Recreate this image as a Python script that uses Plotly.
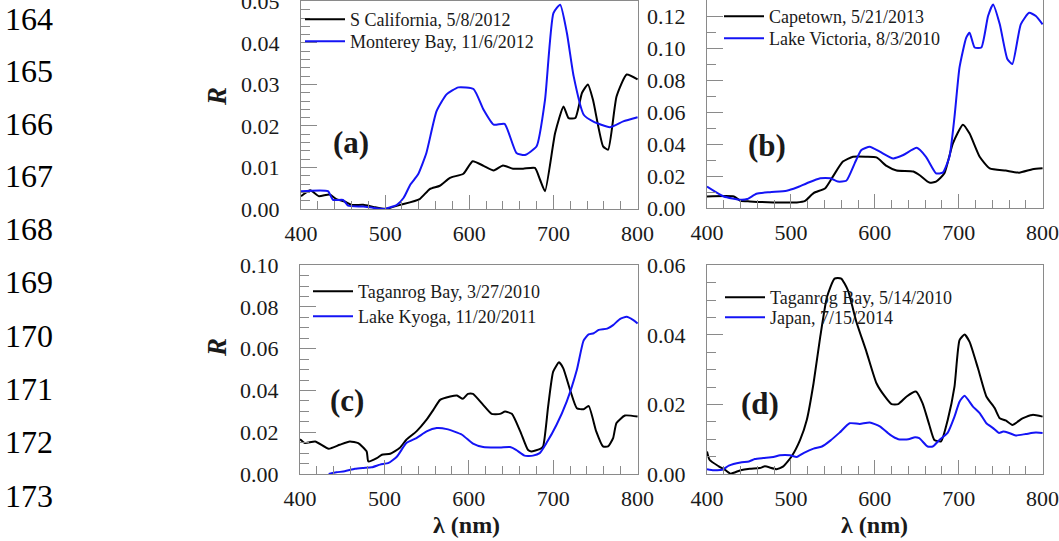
import plotly.graph_objects as go

W, H = 1059, 541

# ---------------- data ----------------
# Panel (a)
a_black_name = "S California, 5/8/2012"
a_black_wl = [400, 411, 421, 434, 442, 452, 460, 474, 486, 500, 518, 541, 553, 565, 577, 593, 604, 617,
              629, 640, 652, 664, 678, 684, 690, 702, 712, 718, 726, 734, 741, 747, 759, 765, 775, 787, 800]
a_black_R = [0.0031, 0.0045, 0.0031, 0.0035, 0.0024, 0.0018, 0.0010, 0.0010, 0.0005, 0.0000, 0.0010, 0.0024,
             0.0048, 0.0056, 0.0075, 0.0085, 0.0115, 0.0104, 0.0093, 0.0105, 0.0097, 0.0097, 0.0099, 0.0071,
             0.0043, 0.0183, 0.0247, 0.0219, 0.0219, 0.0280, 0.0300, 0.0263, 0.0151, 0.0143, 0.0271, 0.0324,
             0.0312]
a_blue_name = "Monterey Bay, 11/6/2012"
a_blue_wl = [400, 432, 438, 450, 456, 474, 498, 514, 522, 530, 539, 549, 561, 573, 587, 605, 617, 629, 642,
             656, 666, 680, 690, 700, 708, 716, 724, 736, 747, 767, 783, 800]
a_blue_R = [0.0043, 0.0043, 0.0022, 0.0022, 0.0008, 0.0006, 0.0000, 0.0010, 0.0027, 0.0059, 0.0083, 0.0135,
            0.0235, 0.0276, 0.0293, 0.0289, 0.0239, 0.0203, 0.0205, 0.0135, 0.0130, 0.0151, 0.0263, 0.0472,
            0.0492, 0.0424, 0.0320, 0.0227, 0.0211, 0.0197, 0.0211, 0.0221]

# Panel (b)
b_black_name = "Capetown, 5/21/2013"
b_black_wl = [400, 432, 440, 451, 479, 507, 517, 527, 541, 550, 562, 574, 590, 602, 614, 626, 646, 654, 665,
              673, 683, 693, 705, 713, 725, 737, 756, 772, 788, 800]
b_black_R = [0.0072, 0.0072, 0.0045, 0.0041, 0.0035, 0.0035, 0.0045, 0.0093, 0.0124, 0.0196, 0.0290, 0.0320,
             0.0320, 0.0316, 0.0263, 0.0234, 0.0228, 0.0203, 0.0159, 0.0165, 0.0217, 0.0403, 0.0521, 0.0465,
             0.0320, 0.0248, 0.0234, 0.0221, 0.0242, 0.0248]
b_blue_name = "Lake Victoria, 8/3/2010"
b_blue_wl = [400, 420, 440, 448, 459, 475, 495, 507, 519, 535, 547, 556, 566, 576, 584, 594, 606, 622, 634,
             650, 661, 673, 681, 689, 695, 701, 709, 713, 719, 727, 735, 741, 749, 758, 764, 774, 784, 792, 800]
b_blue_R = [0.0134, 0.0072, 0.0052, 0.0056, 0.0089, 0.0099, 0.0108, 0.0128, 0.0155, 0.0186, 0.0186, 0.0165,
            0.0170, 0.0279, 0.0362, 0.0383, 0.0352, 0.0310, 0.0331, 0.0376, 0.0320, 0.0217, 0.0221, 0.0320,
            0.0569, 0.0879, 0.1065, 0.1096, 0.1003, 0.1003, 0.1200, 0.1272, 0.1148, 0.0931, 0.0900, 0.1148,
            0.1220, 0.1200, 0.1148]

# Panel (c)
c_black_name = "Taganrog Bay, 3/27/2010"
c_black_wl = [400, 406, 418, 434, 447, 459, 469, 479, 481, 491, 497, 507, 518, 526, 538, 550, 558, 566, 578,
              586, 593, 599, 605, 617, 627, 637, 643, 651, 661, 670, 674, 684, 688, 694, 700, 707, 712, 720,
              728, 736, 742, 751, 759, 765, 771, 775, 785, 800]
c_black_R = [0.0167, 0.0148, 0.0156, 0.0121, 0.0140, 0.0156, 0.0148, 0.0108, 0.0060, 0.0076, 0.0092, 0.0097,
             0.0124, 0.0164, 0.0204, 0.0260, 0.0307, 0.0355, 0.0371, 0.0376, 0.0360, 0.0384, 0.0384, 0.0331,
             0.0288, 0.0288, 0.0299, 0.0288, 0.0204, 0.0116, 0.0108, 0.0119, 0.0132, 0.0323, 0.0490, 0.0535,
             0.0506, 0.0403, 0.0315, 0.0310, 0.0326, 0.0204, 0.0132, 0.0132, 0.0172, 0.0244, 0.0280, 0.0275]
c_blue_name = "Lake Kyoga, 11/20/2011"
c_blue_wl = [434, 443, 453, 465, 475, 485, 495, 505, 515, 526, 538, 550, 562, 574, 592, 605, 617, 637, 649,
             656, 666, 676, 684, 692, 704, 716, 728, 736, 742, 748, 754, 764, 771, 779, 787, 795, 800]
c_blue_R = [0.0000, 0.0008, 0.0013, 0.0025, 0.0029, 0.0032, 0.0045, 0.0053, 0.0084, 0.0148, 0.0172, 0.0204,
            0.0220, 0.0215, 0.0188, 0.0145, 0.0129, 0.0127, 0.0129, 0.0116, 0.0088, 0.0088, 0.0100, 0.0148,
            0.0236, 0.0347, 0.0498, 0.0639, 0.0669, 0.0674, 0.0690, 0.0696, 0.0713, 0.0742, 0.0753, 0.0737,
            0.0721]

# Panel (d)
d_black_name = "Taganrog Bay, 5/14/2010"
d_black_wl = [400, 403, 414, 422, 428, 440, 451, 463, 469, 483, 491, 501, 511, 519, 527, 535, 543, 552, 560,
              568, 578, 590, 602, 612, 620, 628, 638, 649, 657, 665, 671, 679, 687, 695, 701, 707, 713, 723,
              733, 743, 749, 756, 764, 776, 788, 800]
d_black_R = [0.0065, 0.0041, 0.0022, 0.0011, 0.0001, 0.0011, 0.0015, 0.0017, 0.0022, 0.0014, 0.0022, 0.0051,
             0.0098, 0.0156, 0.0261, 0.0395, 0.0509, 0.0562, 0.0562, 0.0528, 0.0438, 0.0352, 0.0261, 0.0223,
             0.0201, 0.0201, 0.0223, 0.0237, 0.0203, 0.0141, 0.0098, 0.0094, 0.0156, 0.0251, 0.0385, 0.0401,
             0.0380, 0.0304, 0.0223, 0.0189, 0.0160, 0.0154, 0.0141, 0.0160, 0.0170, 0.0165]
d_blue_name = "Japan, 7/15/2014"
d_blue_wl = [400, 408, 418, 426, 440, 450, 457, 467, 479, 487, 499, 507, 515, 527, 537, 547, 558, 570, 582,
             594, 606, 618, 628, 640, 648, 653, 663, 669, 677, 687, 695, 701, 707, 717, 725, 733, 741, 748,
             753, 760, 768, 780, 792, 800]
d_blue_R = [0.0014, 0.0011, 0.0012, 0.0024, 0.0033, 0.0036, 0.0043, 0.0046, 0.0049, 0.0054, 0.0054, 0.0049,
            0.0060, 0.0073, 0.0079, 0.0096, 0.0119, 0.0146, 0.0144, 0.0148, 0.0137, 0.0113, 0.0100, 0.0100,
            0.0106, 0.0103, 0.0079, 0.0079, 0.0098, 0.0119, 0.0165, 0.0208, 0.0225, 0.0194, 0.0175, 0.0146,
            0.0132, 0.0118, 0.0122, 0.0118, 0.0111, 0.0115, 0.0119, 0.0118]

panel_labels = ["(a)", "(b)", "(c)", "(d)"]
y_ranges = [[0, 0.0501], [0, 0.13], [0, 0.1001], [0, 0.0601]]
y_dticks = [0.01, 0.02, 0.02, 0.02]
y_minor = [0.002, 0.01, 0.005, 0.005]
x_range = [400, 800.5]
line_numbers = ["164", "165", "166", "167", "168", "169", "170", "171", "172", "173"]
x_title = "λ (nm)"
y_title = "R"

# ---------------- layout helpers ----------------
def px(x):
    return x / W


def py(y):
    return 1 - y / H


SERIF = "Liberation Serif, Times New Roman, Times, serif"
AX = "#8a8a8a"
TXT = "#1a1a1a"
BLUE = "#1414f5"

# plot-area boxes in pixels: (left, right, top, bottom)
boxes = [(301, 638, 1, 209), (707, 1043, 0, 208), (300, 638, 265, 474), (707, 1043, 265, 474)]
# one legend per entry: (left px, top px)
legend_pos = [[(300, 1), (300, 23)], [(719, -2), (719, 20)],
              [(308, 273), (308, 298)], [(720, 279), (720, 299)]]

fig = go.Figure()

series = [
    (a_black_wl, a_black_R, a_black_name, a_blue_wl, a_blue_R, a_blue_name),
    (b_black_wl, b_black_R, b_black_name, b_blue_wl, b_blue_R, b_blue_name),
    (c_black_wl, c_black_R, c_black_name, c_blue_wl, c_blue_R, c_blue_name),
    (d_black_wl, d_black_R, d_black_name, d_blue_wl, d_blue_R, d_blue_name),
]

layout = dict(template="none", width=W, height=H,
              margin=dict(l=0, r=0, t=0, b=0, pad=0, autoexpand=False),
              paper_bgcolor="white", plot_bgcolor="white", showlegend=True,
              font=dict(family=SERIF, color=TXT))

leg_n = 0
for i, (bw, bR, bn, uw, uR, un) in enumerate(series):
    sfx = "" if i == 0 else str(i + 1)
    for j, (wx, ry, nm, col) in enumerate([(bw, bR, bn, "black"), (uw, uR, un, BLUE)]):
        leg_n += 1
        key = "legend" if leg_n == 1 else "legend%d" % leg_n
        fig.add_trace(go.Scatter(x=wx, y=ry, name=nm, mode="lines",
                                 line=dict(color=col, width=2, shape="spline", smoothing=0.5),
                                 xaxis="x" + sfx, yaxis="y" + sfx, legend=key))
        lx, ly = legend_pos[i][j]
        layout[key] = dict(x=px(lx), y=py(ly), xanchor="left", yanchor="top",
                           xref="paper", yref="paper",
                           bgcolor="rgba(0,0,0,0)", borderwidth=0,
                           font=dict(family=SERIF, size=18, color=TXT),
                           itemwidth=40)

for i, (l, r, t, b) in enumerate(boxes):
    sfx = "" if i == 0 else str(i + 1)
    layout["xaxis" + sfx] = dict(
        domain=[px(l), px(r)], anchor="y" + sfx, range=x_range, tick0=400, dtick=100,
        automargin=False, ticklabeloverflow="allow",
        ticks="inside", ticklen=14, tickwidth=1.3, tickcolor=AX,
        showline=True, linecolor=AX, linewidth=1.3, mirror=True,
        showgrid=False, zeroline=False,
        minor=dict(ticks="inside", ticklen=8, dtick=20, tickwidth=1.3, tickcolor=AX, showgrid=False),
        tickfont=dict(family=SERIF, size=22, color=TXT), ticklabelstandoff=4,
    )
    layout["yaxis" + sfx] = dict(
        domain=[py(b), py(t)], anchor="x" + sfx, range=y_ranges[i], tick0=0, dtick=y_dticks[i],
        tickformat=".2f", automargin=False, ticklabeloverflow="allow",
        ticks="inside", ticklen=16, tickwidth=1.3, tickcolor=AX,
        showline=True, linecolor=AX, linewidth=1.3, mirror=True,
        showgrid=False, zeroline=False,
        minor=dict(ticks="inside", ticklen=9, dtick=y_minor[i], tickwidth=1.3, tickcolor=AX, showgrid=False),
        tickfont=dict(family=SERIF, size=22, color=TXT), ticklabelstandoff=16,
    )

fig.update_layout(**layout)

annotations = []
# panel labels
label_pos = [(351, 142), (767, 145), (347, 400), (760, 403)]
for lab, (x, y) in zip(panel_labels, label_pos):
    annotations.append(dict(text="<b>" + lab + "</b>", x=px(x), y=py(y), xref="paper", yref="paper",
                            showarrow=False, xanchor="center", yanchor="middle",
                            font=dict(family=SERIF, size=31, color=TXT)))
# y titles
for y in (97, 348):
    annotations.append(dict(text="<b><i>" + y_title + "</i></b>", x=px(217), y=py(y), xref="paper", yref="paper",
                            showarrow=False, textangle=-90, xanchor="center", yanchor="middle",
                            font=dict(family=SERIF, size=27, color=TXT)))
# x titles
for x in (466, 874):
    annotations.append(dict(text="<b>" + x_title + "</b>", x=px(x), y=py(525), xref="paper", yref="paper",
                            showarrow=False, xanchor="center", yanchor="middle",
                            font=dict(family=SERIF, size=24, color=TXT)))
# manuscript line numbers
ln_y = [19, 71, 124, 176, 229, 282, 336, 389, 442, 496]
for t, y in zip(line_numbers, ln_y):
    annotations.append(dict(text=t, x=px(3), y=py(y), xref="paper", yref="paper",
                            showarrow=False, xanchor="left", yanchor="middle",
                            font=dict(family=SERIF, size=32, color="black")))
fig.update_layout(annotations=annotations)

fig.write_html("out.html", config={"displayModeBar": False},
               post_script="document.body.style.margin='0px';document.body.style.overflow='hidden';")
